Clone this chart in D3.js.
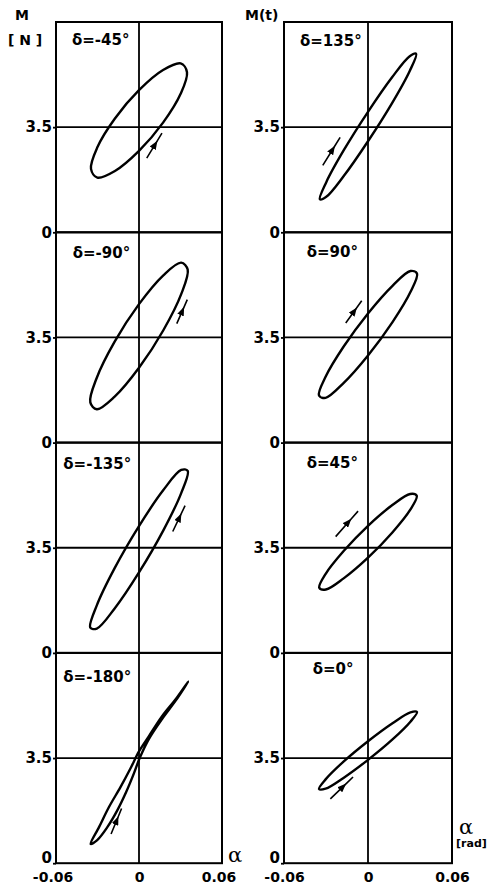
<!DOCTYPE html>
<html>
<head>
<meta charset="utf-8">
<script src="https://cdn.jsdelivr.net/npm/d3@7"></script>
<style>
  html, body { margin: 0; padding: 0; background: #fff; }
  svg { display: block; }
</style>
</head>
<body>
<svg id="chart" width="496" height="892"></svg>
<script>
// Phase shift of each panel: left column top to bottom, then right column
const phases = [-45, -90, -135, -180, 135, 90, 45, 0];

// Axis ticks and ranges
const alphaTicks = [-0.06, 0, 0.06];
const forceTicks = [0, 3.5];
const alphaDomain = [-0.06, 0.06];
const forceDomain = [0, 7];

// Hysteresis loops, [alpha (rad), M (N)] going round each loop
const loopM45 = [[0.0347,5.33],[0.0301,5.62],[0.0174,5.40],[0,4.73],[-0.0174,3.79],[-0.0301,2.83],
                 [-0.0347,2.11],[-0.0301,1.82],[-0.0174,2.04],[0,2.71],[0.0174,3.65],[0.0301,4.61]];
const loopM90 = [[0.0352,5.76],[0.0305,5.99],[0.0176,5.57],[0,4.61],[-0.0176,3.36],[-0.0305,2.16],
                 [-0.0352,1.34],[-0.0305,1.11],[-0.0176,1.53],[0,2.49],[0.0176,3.74],[0.0305,4.94]];
const loopM135 = [[0.0352,6.06],[0.0305,6.09],[0.0176,5.42],[0,4.22],[-0.0176,2.82],[-0.0305,1.58],
                  [-0.0352,0.84],[-0.0305,0.81],[-0.0176,1.48],[0,2.68],[0.0176,4.08],[0.0305,5.32]];
const loopM180 = [[-0.0350,0.64],[-0.0289,1.20],[-0.0217,1.87],[-0.0133,2.54],[-0.0061,3.16],[0,3.72],
                  [0.0072,4.23],[0.0168,4.90],[0.0265,5.46],[0.0356,6.05],[0.0265,5.41],[0.0168,4.81],
                  [0.0072,4.14],[0.0005,3.50],[-0.0036,3.00],[-0.0092,2.38],[-0.0157,1.76],[-0.0229,1.20],
                  [-0.0302,0.77]];
const loop135 = [[0.0344,5.94],[0.0298,5.86],[0.0172,5.16],[0,4.01],[-0.0172,2.74],[-0.0298,1.67],
                 [-0.0344,1.10],[-0.0298,1.18],[-0.0172,1.88],[0,3.03],[0.0172,4.30],[0.0298,5.37]];
const loop90 = [[0.0350,5.63],[0.0303,5.71],[0.0175,5.22],[0,4.30],[-0.0175,3.19],[-0.0303,2.19],
                [-0.0350,1.57],[-0.0303,1.49],[-0.0175,1.98],[0,2.90],[0.0175,4.01],[0.0303,5.01]];
const loop45 = [[0.0348,5.23],[0.0301,5.29],[0.0174,4.92],[0,4.23],[-0.0174,3.39],[-0.0301,2.64],
                [-0.0348,2.17],[-0.0301,2.11],[-0.0174,2.48],[0,3.17],[0.0174,4.01],[0.0301,4.76]];
const loop0 = [[0.0350,5.03],[0.0303,5.02],[0.0175,4.66],[0,4.06],[-0.0175,3.38],[-0.0303,2.79],
               [-0.0350,2.47],[-0.0303,2.48],[-0.0175,2.84],[0,3.44],[0.0175,4.12],[0.0303,4.71]];
const loops = [loopM45, loopM90, loopM135, loopM180, loop135, loop90, loop45, loop0];

// Direction-of-travel arrows, [tail, head] in [alpha, M]
const arrowM45 = [[0.0056,2.47],[0.0166,3.30]];
const arrowM90 = [[0.0273,3.96],[0.0349,4.76]];
const arrowM135 = [[0.0244,4.04],[0.0333,4.90]];
const arrowM180 = [[-0.0202,0.97],[-0.0126,1.82]];
const arrow135 = [[-0.0323,2.23],[-0.0199,3.16]];
const arrow90 = [[-0.0159,3.98],[-0.0045,4.72]];
const arrow45 = [[-0.0231,3.87],[-0.0071,4.72]];
const arrow0 = [[-0.0269,2.14],[-0.0107,2.87]];
const arrows = [arrowM45, arrowM90, arrowM135, arrowM180, arrow135, arrow90, arrow45, arrow0];

// ---- layout ----
const columns = [{x0: 56, x1: 222}, {x0: 284, x1: 452}];
const firstTop = 22, rowH = 210.3;
// delta label offsets (px) from each panel's top-left corner
const labelOffsets = [[16,23],[16.7,26],[7.3,26],[7.3,29],[16,24],[22.7,25],[22.7,25],[28.7,21]];
const font = "'DejaVu Sans', sans-serif";

const svg = d3.select("#chart");

svg.append("defs").append("marker")
  .attr("id", "head")
  .attr("viewBox", "0 0 10 10")
  .attr("refX", 10).attr("refY", 5)
  .attr("markerWidth", 9).attr("markerHeight", 7)
  .attr("markerUnits", "userSpaceOnUse")
  .attr("preserveAspectRatio", "none")
  .attr("orient", "auto")
  .append("path").attr("d", "M0,0L10,5L0,10z").attr("fill", "#000");

phases.forEach((p, i) => {
  const col = Math.floor(i / 4), row = i % 4;
  const c = columns[col];
  const y0 = firstTop + row * rowH, y1 = y0 + rowH;
  const x = d3.scaleLinear().domain(alphaDomain).range([c.x0, c.x1]);
  const y = d3.scaleLinear().domain(forceDomain).range([y1, y0]);
  const g = svg.append("g");

  // cross-hair through alpha = 0 and M = 3.5
  g.append("line")
    .attr("x1", x(0)).attr("x2", x(0)).attr("y1", y(forceDomain[0])).attr("y2", y(forceDomain[1]))
    .attr("stroke", "#000").attr("stroke-width", 1.8);
  g.append("line")
    .attr("x1", x(alphaDomain[0])).attr("x2", x(alphaDomain[1])).attr("y1", y(3.5)).attr("y2", y(3.5))
    .attr("stroke", "#000").attr("stroke-width", 1.8);

  // panel frame
  g.append("rect")
    .attr("x", x(alphaDomain[0])).attr("y", y(forceDomain[1]))
    .attr("width", x(alphaDomain[1]) - x(alphaDomain[0]))
    .attr("height", y(forceDomain[0]) - y(forceDomain[1]))
    .attr("fill", "none").attr("stroke", "#000").attr("stroke-width", 2);

  // M axis
  const ay = g.append("g")
    .attr("transform", `translate(${x(alphaDomain[0])},0)`)
    .call(d3.axisLeft(y).tickValues(forceTicks).tickSize(3).tickPadding(1).tickFormat(d => String(d)));
  ay.select(".domain").remove();
  ay.selectAll("line").attr("stroke", "#000").attr("stroke-width", 1.8);
  ay.selectAll("text").attr("font-family", font).attr("font-weight", "bold")
    .attr("font-size", 15).attr("fill", "#000");
  // on the bottom row the zero sits above the corner, clear of the alpha ticks
  if (row === 3) ay.selectAll("text").filter(d => d === 0).attr("dy", "-0.02em");

  // alpha axis under the last row
  if (row === 3) {
    const ax = g.append("g")
      .attr("transform", `translate(0,${y(forceDomain[0])})`)
      .call(d3.axisBottom(x).tickValues(alphaTicks).tickSize(0).tickPadding(9)
        .tickFormat(d => d === 0 ? "0" : d.toFixed(2)));
    ax.select(".domain").remove();
    ax.selectAll("text").attr("font-family", font).attr("font-weight", "bold")
      .attr("font-size", 14).attr("fill", "#000");
    ax.selectAll("text").filter(d => d !== 0).attr("dx", col === 0 ? "-0.25em" : "0");
  }

  // hysteresis loop
  const line = d3.line()
    .x(d => x(d[0])).y(d => y(d[1]))
    .curve(d3.curveCatmullRomClosed.alpha(0.5));
  g.append("path").datum(loops[i])
    .attr("d", line)
    .attr("fill", "none").attr("stroke", "#000").attr("stroke-width", 2.4)
    .attr("stroke-linejoin", "round");

  // arrow showing the sense of travel, head drawn part-way along the shaft
  const [t, h] = arrows[i];
  const tx = x(t[0]), ty = y(t[1]), hx = x(h[0]), hy = y(h[1]);
  const mx = tx + (hx - tx) * 0.7, my = ty + (hy - ty) * 0.7;
  g.append("path")
    .attr("d", `M${tx},${ty}L${mx},${my}L${hx},${hy}`)
    .attr("fill", "none").attr("stroke", "#000").attr("stroke-width", 1.6)
    .attr("marker-mid", "url(#head)");

  // phase label
  const [lx, ly] = labelOffsets[i];
  g.append("text")
    .attr("x", x(alphaDomain[0]) + lx).attr("y", y(forceDomain[1]) + ly)
    .attr("font-family", font).attr("font-weight", "bold").attr("font-size", 15)
    .attr("fill", "#000")
    .text(`δ=${p}°`);
});

// axis titles
const titles = svg.append("g").attr("font-family", font).attr("font-weight", "bold").attr("fill", "#000");
titles.append("text").attr("x", 15).attr("y", 20).attr("font-size", 14).text("M");
titles.append("text").attr("x", 8).attr("y", 44.5).attr("font-size", 14).attr("xml:space", "preserve").text("[ N ]");
titles.append("text").attr("x", 245).attr("y", 20).attr("font-size", 14).text("M(t)");
titles.append("text").attr("x", 456).attr("y", 847).attr("font-size", 11).text("[rad]");

const greek = svg.append("g").attr("font-family", "'DejaVu Serif', serif").attr("fill", "#000");
greek.append("text").attr("x", 228).attr("y", 862).attr("font-size", 21).text("α");
greek.append("text").attr("x", 459).attr("y", 834).attr("font-size", 21).text("α");
</script>
</body>
</html>
